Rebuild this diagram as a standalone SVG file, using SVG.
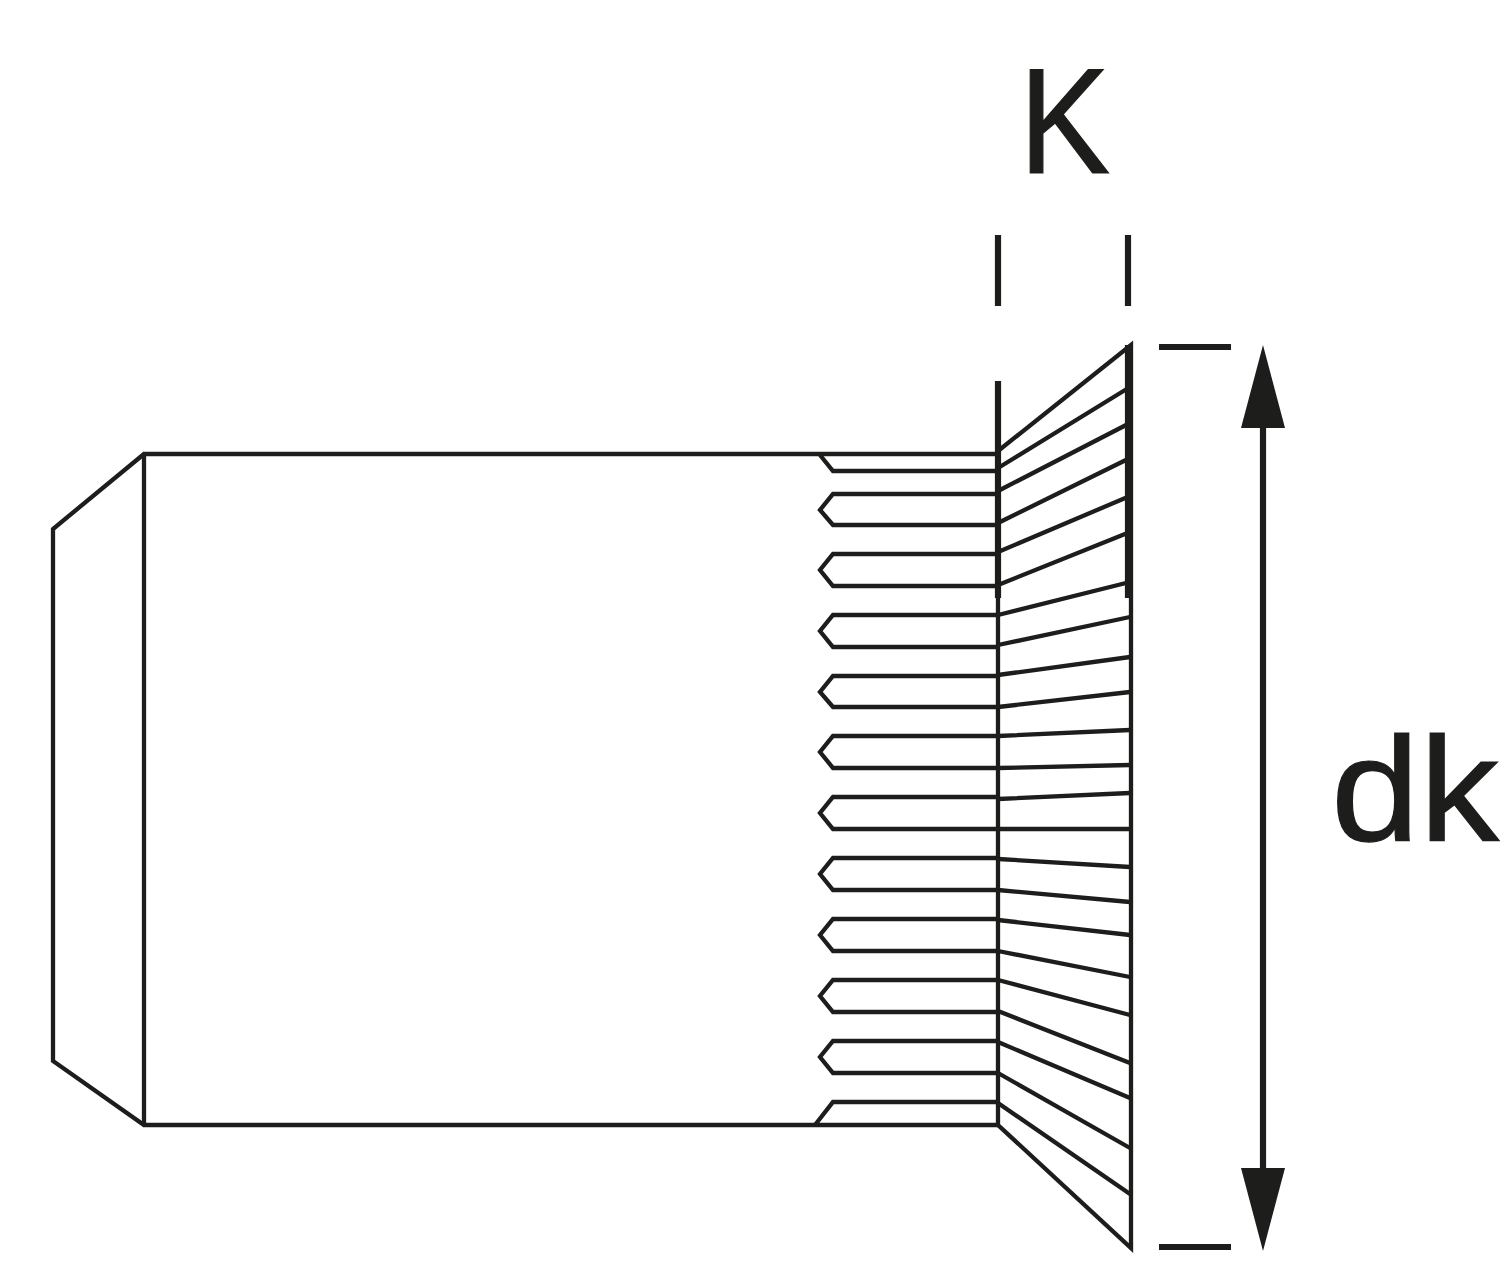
<svg xmlns="http://www.w3.org/2000/svg" width="1500" height="1277" viewBox="0 0 1500 1277">
<style>
.l{fill:none;stroke:#1d1d1b;stroke-width:4.3;stroke-linejoin:miter}
.t{fill:none;stroke:#1d1d1b;stroke-width:6.2}
.h{fill:#1d1d1b;stroke:none}
text{font-family:"Liberation Sans",Arial,sans-serif;font-size:150px;fill:#1d1d1b;stroke:#1d1d1b;stroke-width:1.2}
</style>
<rect width="1500" height="1277" fill="#fff"/>
<g id="body">
<path class="l" d="M998 454H144L53 529V1061L144 1125H998"/>
<path class="l" d="M144 454V1125"/>
</g>
<g id="knurls">
<path class="l" d="M820 455L833 471H998"/>
<path class="l" d="M998 494H833L820 510L833 525H998"/>
<path class="l" d="M998 554H833L820 570L833 586H998"/>
<path class="l" d="M998 615H833L820 631L833 647H998"/>
<path class="l" d="M998 676H833L820 692L833 707H998"/>
<path class="l" d="M998 736H833L820 752L833 768H998"/>
<path class="l" d="M998 797H833L820 813L833 829H998"/>
<path class="l" d="M998 858H833L820 874L833 890H998"/>
<path class="l" d="M998 919H833L820 935L833 951H998"/>
<path class="l" d="M998 980H833L820 996L833 1012H998"/>
<path class="l" d="M998 1041H833L820 1057L833 1073H998"/>
<path class="l" d="M815 1125L833 1102H998"/>
</g>
<g id="head">
<path class="l" d="M998 455V1125L1131 1248V345L998 451"/>
<path class="l" d="M998 468L1130 387M998 491L1130 423M998 523L1130 458M998 552L1130 496M998 585L1130 532M998 615L1130 582M998 645L1130 617M998 675L1130 657M998 707L1130 692M998 736L1130 730M998 768L1130 765M998 799L1130 793M998 829L1130 829M998 859L1130 867M998 890L1130 902M998 920L1130 935M998 951L1130 977M998 980L1130 1015M998 1011L1130 1063M998 1042L1130 1098M998 1073L1130 1148M998 1103L1130 1194"/>
</g>
<g id="dimensions">
<path class="t" d="M998 235V306M998 381V598M1128 235V306M1128 345V598"/>
<path class="t" d="M1159 347H1231M1159 1247H1231"/>
<path class="t" d="M1263 420V1175"/>
<path class="h" d="M1263 345L1285 428H1241Z"/>
<path class="h" d="M1263 1251L1285 1168H1241Z"/>
</g>
<g id="labels">
<text transform="translate(1019 172.500) scale(.91 1)">K</text>
<text transform="translate(1331 841) scale(1.06 .985)">dk</text>
</g>
</svg>
